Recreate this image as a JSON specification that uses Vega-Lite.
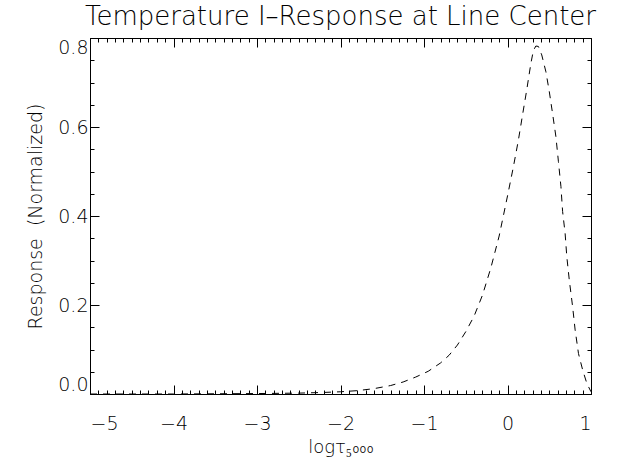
{
  "$schema": "https://vega.github.io/schema/vega-lite/v6.json",
  "width": 501,
  "height": 356,
  "autosize": {"type": "none"},
  "padding": {"left": 90, "top": 38, "right": 30, "bottom": 64},
  "background": "white",
  "view": {"stroke": "black", "strokeWidth": 1},
  "config": {
    "font": "DejaVu Sans",
    "axis": {
      "grid": false,
      "domainColor": "black",
      "tickColor": "black",
      "labelColor": "black",
      "titleColor": "black",
      "labelFont": "DejaVu Sans",
      "titleFont": "DejaVu Sans",
      "labelFontWeight": 200,
      "titleFontWeight": 200,
      "labelOverlap": false
    }
  },
  "title": {
    "text": "Temperature I–Response at Line Center",
    "font": "DejaVu Sans",
    "fontSize": 26,
    "fontWeight": 200,
    "color": "black",
    "anchor": "middle",
    "offset": 8
  },
  "data": {
    "values": [
      {"logtau": -5.0, "response": 0.0},
      {"logtau": -4.5, "response": 0.0},
      {"logtau": -4.0, "response": 0.0},
      {"logtau": -3.5, "response": 0.0005},
      {"logtau": -3.0, "response": 0.001},
      {"logtau": -2.5, "response": 0.002},
      {"logtau": -2.2, "response": 0.0035},
      {"logtau": -2.0, "response": 0.005},
      {"logtau": -1.8, "response": 0.0075},
      {"logtau": -1.6, "response": 0.012},
      {"logtau": -1.4, "response": 0.019},
      {"logtau": -1.25, "response": 0.027},
      {"logtau": -1.1, "response": 0.038},
      {"logtau": -0.95, "response": 0.051},
      {"logtau": -0.8, "response": 0.07},
      {"logtau": -0.7, "response": 0.087},
      {"logtau": -0.6, "response": 0.11},
      {"logtau": -0.5, "response": 0.14},
      {"logtau": -0.4, "response": 0.175},
      {"logtau": -0.3, "response": 0.222},
      {"logtau": -0.2, "response": 0.283},
      {"logtau": -0.1, "response": 0.355},
      {"logtau": 0.0, "response": 0.445},
      {"logtau": 0.07, "response": 0.51},
      {"logtau": 0.13, "response": 0.57},
      {"logtau": 0.18, "response": 0.627},
      {"logtau": 0.23, "response": 0.683},
      {"logtau": 0.28, "response": 0.743},
      {"logtau": 0.31, "response": 0.772},
      {"logtau": 0.34, "response": 0.782},
      {"logtau": 0.37, "response": 0.781},
      {"logtau": 0.41, "response": 0.762},
      {"logtau": 0.46, "response": 0.724},
      {"logtau": 0.5, "response": 0.68},
      {"logtau": 0.54, "response": 0.63},
      {"logtau": 0.58, "response": 0.578},
      {"logtau": 0.61, "response": 0.522},
      {"logtau": 0.64, "response": 0.466},
      {"logtau": 0.66, "response": 0.41},
      {"logtau": 0.69, "response": 0.361},
      {"logtau": 0.71, "response": 0.309},
      {"logtau": 0.74, "response": 0.256},
      {"logtau": 0.78, "response": 0.196},
      {"logtau": 0.81, "response": 0.144},
      {"logtau": 0.85, "response": 0.091},
      {"logtau": 0.9, "response": 0.054},
      {"logtau": 0.95, "response": 0.024},
      {"logtau": 1.0, "response": 0.005}
    ]
  },
  "layer": [
    {
      "mark": {"type": "line", "color": "black", "strokeWidth": 1, "strokeDash": [7, 6], "clip": true},
      "encoding": {
        "x": {
          "field": "logtau",
          "type": "quantitative",
          "scale": {"domain": [-5, 1], "nice": false, "zero": false},
          "axis": {
            "orient": "bottom",
            "title": "logτ₅₀₀₀",
            "titleFontSize": 18,
            "titlePadding": 0,
            "labelFontSize": 19,
            "labelPadding": 29,
            "values": [-5, -4.9, -4.8, -4.7, -4.6, -4.5, -4.4, -4.3, -4.2, -4.1, -4, -3.9, -3.8, -3.7, -3.6, -3.5, -3.4, -3.3, -3.2, -3.1, -3, -2.9, -2.8, -2.7, -2.6, -2.5, -2.4, -2.3, -2.2, -2.1, -2, -1.9, -1.8, -1.7, -1.6, -1.5, -1.4, -1.3, -1.2, -1.1, -1, -0.9, -0.8, -0.7, -0.6, -0.5, -0.4, -0.3, -0.2, -0.1, 0, 0.1, 0.2, 0.3, 0.4, 0.5, 0.6, 0.7, 0.8, 0.9, 1],
            "labelExpr": "abs(datum.value - round(datum.value)) < 0.01 ? format(round(datum.value), 'd') : ''",
            "tickSize": {"condition": {"test": "abs(datum.value - round(datum.value)) < 0.01", "value": -9}, "value": -4}
          }
        },
        "y": {
          "field": "response",
          "type": "quantitative",
          "scale": {"domain": [0, 0.8], "nice": false},
          "axis": {
            "orient": "left",
            "title": "Response \u00a0(Normalized)",
            "titleFontSize": 19,
            "titlePadding": 12,
            "labelFontSize": 19,
            "labelPadding": 11,
            "labelFlush": true,
            "values": [0, 0.05, 0.1, 0.15, 0.2, 0.25, 0.3, 0.35, 0.4, 0.45, 0.5, 0.55, 0.6, 0.65, 0.7, 0.75, 0.8],
            "labelExpr": "abs(datum.value * 5 - round(datum.value * 5)) < 0.01 ? format(datum.value, '.1f') : ''",
            "tickSize": {"condition": {"test": "abs(datum.value * 5 - round(datum.value * 5)) < 0.01", "value": -9}, "value": -4}
          }
        }
      }
    },
    {
      "mark": {"type": "line", "opacity": 0},
      "encoding": {
        "x": {
          "field": "logtau",
          "type": "quantitative",
          "axis": {
            "orient": "top",
            "title": null,
            "labels": false,
            "domain": false,
            "values": [-5, -4.9, -4.8, -4.7, -4.6, -4.5, -4.4, -4.3, -4.2, -4.1, -4, -3.9, -3.8, -3.7, -3.6, -3.5, -3.4, -3.3, -3.2, -3.1, -3, -2.9, -2.8, -2.7, -2.6, -2.5, -2.4, -2.3, -2.2, -2.1, -2, -1.9, -1.8, -1.7, -1.6, -1.5, -1.4, -1.3, -1.2, -1.1, -1, -0.9, -0.8, -0.7, -0.6, -0.5, -0.4, -0.3, -0.2, -0.1, 0, 0.1, 0.2, 0.3, 0.4, 0.5, 0.6, 0.7, 0.8, 0.9, 1],
            "tickSize": {"condition": {"test": "abs(datum.value - round(datum.value)) < 0.01", "value": -9}, "value": -4}
          }
        },
        "y": {
          "field": "response",
          "type": "quantitative",
          "axis": {
            "orient": "right",
            "title": null,
            "labels": false,
            "domain": false,
            "values": [0, 0.05, 0.1, 0.15, 0.2, 0.25, 0.3, 0.35, 0.4, 0.45, 0.5, 0.55, 0.6, 0.65, 0.7, 0.75, 0.8],
            "tickSize": {"condition": {"test": "abs(datum.value * 5 - round(datum.value * 5)) < 0.01", "value": -9}, "value": -4}
          }
        }
      }
    }
  ],
  "resolve": {"axis": {"x": "independent", "y": "independent"}}
}
